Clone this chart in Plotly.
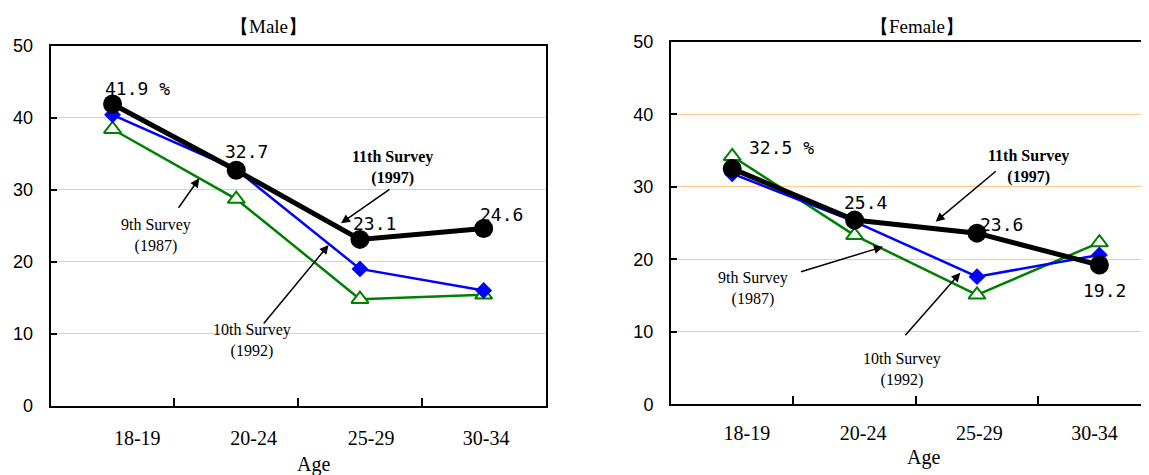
import plotly.graph_objects as go

# ---------------- data ----------------
ages = ["18-19", "20-24", "25-29", "30-34"]
male_9th = [38.4, 28.7, 14.8, 15.4]
male_10th = [40.4, 32.8, 19.0, 16.0]
male_11th = [41.9, 32.7, 23.1, 24.6]
female_9th = [34.2, 23.3, 15.1, 22.3]
female_10th = [31.8, 25.2, 17.6, 20.6]
female_11th = [32.5, 25.4, 23.6, 19.2]
y_ticks = [0, 10, 20, 30, 40, 50]
male_value_labels = ["41.9 %", "32.7", "23.1", "24.6"]
female_value_labels = ["32.5 %", "25.4", "23.6", "19.2"]

# ---------------- layout helpers ----------------
W, H = 1149, 475
OX, OY = 8, 8   # page body margin: figure is drawn at (8, 8) in the window

def px(x):
    return (x - OX) / W
def py(y):
    return 1 - (y - OY) / H

SERIF = "Liberation Serif, Times New Roman, serif"
SANS = "Liberation Sans, Arial, sans-serif"
MONO = "DejaVu Sans Mono, monospace"

xi = list(range(len(ages)))

fig = go.Figure()

def add_panel(v9, v10, v11, xa, ya):
    fig.add_trace(go.Scatter(
        x=xi, y=v9, mode="lines+markers", xaxis=xa, yaxis=ya,
        line=dict(color="#008000", width=2.5),
        marker=dict(symbol="triangle-up", size=15, color="white",
                    line=dict(color="#008000", width=2)),
        name="9th Survey (1987)", showlegend=False))
    fig.add_trace(go.Scatter(
        x=xi, y=v10, mode="lines+markers", xaxis=xa, yaxis=ya,
        line=dict(color="#0000FF", width=2.5),
        marker=dict(symbol="diamond", size=13, color="#0000FF"),
        name="10th Survey (1992)", showlegend=False))
    fig.add_trace(go.Scatter(
        x=xi, y=v11, mode="lines+markers", xaxis=xa, yaxis=ya,
        line=dict(color="black", width=5),
        marker=dict(symbol="circle", size=19, color="black"),
        name="11th Survey (1997)", showlegend=False))

add_panel(male_9th, male_10th, male_11th, "x", "y")
add_panel(female_9th, female_10th, female_11th, "x2", "y2")

male_label_off = [0.20, 0.14, 0.09, 0.02]
female_label_off = [0.12, 0.07, 0.02, -0.04]

grid_col = "#FFC890"

def xaxis_cfg(domain, rng, offs, standoff, mirror):
    return dict(
        domain=domain, range=rng, showgrid=False, zeroline=False,
        showline=True, linecolor="black", linewidth=2, mirror=mirror,
        tickmode="array", tickvals=[i + o for i, o in zip(xi, offs)],
        ticktext=ages, ticks="", ticklabelstandoff=standoff,
        tickfont=dict(family=SERIF, size=20, color="black"),
        minor=dict(tickmode="array", tickvals=[0.5, 1.5, 2.5], ticks="inside",
                   ticklen=8, tickwidth=1.5, tickcolor="black", showgrid=False),
        automargin=False, fixedrange=True)

def yaxis_cfg(domain, anchor):
    return dict(
        domain=domain, range=[0, 50], anchor=anchor,
        tickmode="array", tickvals=y_ticks, ticktext=[str(t) for t in y_ticks],
        showgrid=True, gridcolor=grid_col, gridwidth=1,
        zeroline=False, showline=True, linecolor="black", linewidth=2,
        ticks="inside", ticklen=6, tickcolor="black", tickwidth=1.5,
        ticklabelstandoff=12,
        tickfont=dict(family=SANS, size=18, color="black"),
        automargin=False, fixedrange=True)

# plot-area edges in window pixels
m_x0, m_x1, m_top, m_bot = 50.7, 545.5, 45.7, 405.7
f_x0, f_top, f_bot, f_step = 671.0, 41.7, 404.3, 122.4
f_right_window = OX + W  # right edge of the figure in window pixels

layout_xaxis = xaxis_cfg([px(m_x0), px(m_x1)], [-0.5, 3.5], male_label_off, 13, True)
layout_xaxis["anchor"] = "y"
layout_xaxis2 = xaxis_cfg([px(f_x0), 1.0],
                          [-0.5, -0.5 + (f_right_window - f_x0) / f_step],
                          female_label_off, 10, True)
layout_xaxis2["anchor"] = "y2"

layout_yaxis = yaxis_cfg([py(m_bot), py(m_top)], "x")
layout_yaxis["mirror"] = True
layout_yaxis2 = yaxis_cfg([py(f_bot), py(f_top)], "x2")
layout_yaxis2["mirror"] = False

annotations = []

def text_ann(x, y, text, family=SERIF, size=16, bold=False):
    if bold:
        text = "<b>" + text.replace("<br>", "</b><br><b>") + "</b>"
    annotations.append(dict(x=px(x), y=py(y), xref="paper", yref="paper",
                            text=text, showarrow=False, xanchor="center",
                            yanchor="middle",
                            font=dict(family=family, size=size, color="black")))

def arrow_ann(tail, tip):
    annotations.append(dict(x=px(tip[0]), y=py(tip[1]), xref="paper", yref="paper",
                            ax=tail[0] - tip[0], ay=tail[1] - tip[1],
                            axref="pixel", ayref="pixel", text="",
                            showarrow=True, arrowhead=2, arrowsize=1.2,
                            arrowwidth=1.5, arrowcolor="black"))

# titles & axis titles
text_ann(268, 26.7, "【Male】", size=19)
text_ann(917.4, 26.7, "【Female】", size=19)
text_ann(313, 464, "Age", size=20)
text_ann(923, 457.5, "Age", size=20)

# survey labels
text_ann(156, 235, "9th Survey<br>(1987)")
text_ann(251.8, 340.3, "10th Survey<br>(1992)")
text_ann(392, 167.5, "11th Survey<br>(1997)", bold=True)
text_ann(1028.8, 166.2, "11th Survey<br>(1997)", bold=True)
text_ann(753.4, 288.8, "9th Survey<br>(1987)")
text_ann(902.2, 369.2, "10th Survey<br>(1992)")

arrow_ann((177.5, 209.3), (199.3, 178.3))
arrow_ann((262.5, 325.0), (328.6, 245.0))
arrow_ann((391.0, 188.3), (341.0, 223.3))
arrow_ann((997.3, 170.0), (935.6, 221.7))
arrow_ann((799.5, 272.3), (883.0, 246.7))
arrow_ann((904.0, 336.7), (960.3, 272.7))

# value labels for 11th survey
male_shift = [(25, 16), (10, 19), (15, 16), (18, 14)]
female_shift = [(49, 21), (11, 18), (24, 9), (5, -25)]
for i, (v, t) in enumerate(zip(male_11th, male_value_labels)):
    annotations.append(dict(x=i, y=v, xref="x", yref="y", text=t, showarrow=False,
                            xshift=male_shift[i][0], yshift=male_shift[i][1],
                            font=dict(family=MONO, size=18, color="black")))
for i, (v, t) in enumerate(zip(female_11th, female_value_labels)):
    annotations.append(dict(x=i, y=v, xref="x2", yref="y2", text=t, showarrow=False,
                            xshift=female_shift[i][0], yshift=female_shift[i][1],
                            font=dict(family=MONO, size=18, color="black")))

fig.update_layout(
    width=W, height=H, autosize=False,
    margin=dict(l=0, r=0, t=0, b=0, pad=0, autoexpand=False),
    paper_bgcolor="white", plot_bgcolor="white",
    showlegend=False,
    xaxis=layout_xaxis, xaxis2=layout_xaxis2,
    yaxis=layout_yaxis, yaxis2=layout_yaxis2,
    annotations=annotations,
)

fig.write_html("out.html")
